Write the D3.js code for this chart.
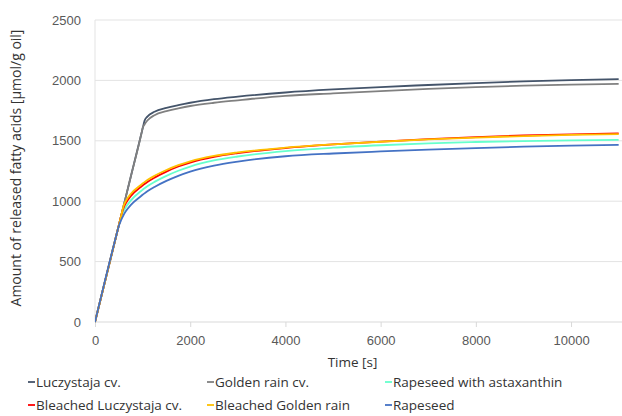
<!DOCTYPE html>
<html>
<head>
  <script src="https://d3js.org/d3.v7.min.js"></script>
  <style>
    body { margin: 0; background: #fff; }
    svg { display: block; font-family: "Open Sans", "Noto Sans", sans-serif; }
    .tick text { fill: #595959; font-size: 13px; }
    .legend text { fill: #333; font-size: 13.5px; }
  </style>
</head>
<body>
<div id="chart"></div>
<script>
  // time points [s]
  const times = [0, 450, 500, 550, 600, 650, 750, 975, 1000, 1040, 1100, 1250, 1500, 1750, 2000,
                 2500, 3000, 4000, 5000, 6000, 7000, 8000, 9000, 10000, 11000];

  const luczystaja = [0, 720, 800, 880, 960, 1040, 1200, 1560, 1600, 1665, 1700, 1740, 1772, 1795, 1815,
                      1845, 1866, 1900, 1925, 1945, 1962, 1978, 1992, 2002, 2010];
  const goldenRain = [0, 720, 800, 880, 960, 1040, 1200, 1560, 1605, 1635, 1668, 1712, 1745, 1768, 1788,
                      1815, 1835, 1872, 1893, 1912, 1930, 1945, 1956, 1965, 1972];
  const astaxanthin = [0, 720, 800, 875, 918, 952, 1005, 1087, 1095, 1107, 1124, 1160, 1210, 1252, 1287,
                       1337, 1370, 1415, 1443, 1463, 1479, 1490, 1498, 1504, 1508];
  const bleachedLuczystaja = [0, 720, 800, 880, 945, 985, 1042, 1122, 1130, 1142, 1159, 1195, 1245, 1287, 1320,
                              1367, 1398, 1440, 1470, 1494, 1514, 1531, 1544, 1554, 1562];
  const bleachedGolden = [0, 720, 800, 880, 960, 1003, 1060, 1138, 1146, 1158, 1175, 1210, 1258, 1298, 1330,
                          1375, 1404, 1443, 1470, 1492, 1511, 1527, 1539, 1549, 1555];
  const rapeseed = [0, 720, 795, 845, 885, 918, 968, 1045, 1053, 1065, 1082, 1118, 1168, 1210, 1245,
                    1295, 1328, 1372, 1395, 1412, 1427, 1440, 1451, 1460, 1466];

  const seriesNames = ["Luczystaja cv.", "Golden rain cv.", "Rapeseed with astaxanthin",
                       "Bleached Luczystaja cv.", "Bleached Golden rain", "Rapeseed"];
  const seriesValues = [luczystaja, goldenRain, astaxanthin, bleachedLuczystaja, bleachedGolden, rapeseed];
  const colors = ["#44546A", "#808080", "#66FFCC", "#FF0000", "#FFC000", "#4472C4"];

  const xTicks = [0, 2000, 4000, 6000, 8000, 10000];
  const yTicks = [0, 500, 1000, 1500, 2000, 2500];

  const width = 622, height = 416;
  const margin = { top: 20, right: 0, bottom: 94, left: 95 };

  const svg = d3.select("#chart").append("svg")
    .attr("width", width)
    .attr("height", height);

  const x = d3.scaleLinear().domain([0, 11070]).range([margin.left, width - margin.right]);
  const y = d3.scaleLinear().domain([0, 2500]).range([height - margin.bottom, margin.top]);

  svg.append("defs").append("clipPath").attr("id", "plot")
    .append("rect")
    .attr("x", margin.left).attr("y", 0)
    .attr("width", width - margin.left).attr("height", height - margin.bottom + 2);

  // horizontal gridlines
  svg.append("g")
    .selectAll("line")
    .data(yTicks.slice(1))
    .join("line")
    .attr("x1", margin.left).attr("x2", width)
    .attr("y1", d => y(d)).attr("y2", d => y(d))
    .attr("stroke", "#e3e3e3").attr("stroke-width", 1);

  // left vertical line
  svg.append("line")
    .attr("x1", margin.left).attr("x2", margin.left)
    .attr("y1", margin.top).attr("y2", y(0))
    .attr("stroke", "#e3e3e3");

  // x axis
  const xAxis = svg.append("g")
    .attr("transform", `translate(0,${y(0)})`)
    .call(d3.axisBottom(x).tickValues(xTicks).tickSize(5).tickPadding(9).tickFormat(d3.format("d")));
  xAxis.select(".domain").attr("stroke", "#d9d9d9").attr("d", `M${margin.left},0H${width}`);
  xAxis.selectAll(".tick line").attr("stroke", "#d9d9d9");

  // y axis
  const yAxis = svg.append("g")
    .attr("transform", `translate(${margin.left},0)`)
    .call(d3.axisLeft(y).tickValues(yTicks).tickSize(0).tickPadding(14).tickFormat(d3.format("d")));
  yAxis.select(".domain").remove();

  // lines
  const line = d3.line()
    .x((d, i) => x(times[i]))
    .y(d => y(d))
    .curve(d3.curveMonotoneX);

  svg.append("g")
    .attr("clip-path", "url(#plot)")
    .selectAll("path")
    .data(seriesValues)
    .join("path")
    .attr("d", d => line(d))
    .attr("fill", "none")
    .attr("stroke", (d, i) => colors[i])
    .attr("stroke-width", 1.8);

  // axis titles
  svg.append("text")
    .attr("x", (margin.left + width) / 2 - 6)
    .attr("y", 367)
    .attr("text-anchor", "middle")
    .attr("fill", "#333")
    .style("font-size", "13.5px")
    .text("Time [s]");

  svg.append("text")
    .attr("transform", `translate(21,${(margin.top + y(0)) / 2 - 3}) rotate(-90)`)
    .attr("text-anchor", "middle")
    .attr("fill", "#333")
    .style("font-size", "14px")
    .text("Amount of released fatty acids [µmol/g oil]");

  // legend
  const legendX = [28, 207, 385];
  const legendY = [383, 406];
  const legend = svg.append("g").attr("class", "legend")
    .selectAll("g")
    .data(seriesNames)
    .join("g")
    .attr("transform", (d, i) => `translate(${legendX[i % 3]},${legendY[Math.floor(i / 3)]})`);

  legend.append("line")
    .attr("x1", 0).attr("x2", 7)
    .attr("y1", -1).attr("y2", -1)
    .attr("stroke", (d, i) => colors[i])
    .attr("stroke-width", 1.8);

  legend.append("text")
    .attr("x", 8)
    .attr("y", 4)
    .text(d => d);
</script>
</body>
</html>
